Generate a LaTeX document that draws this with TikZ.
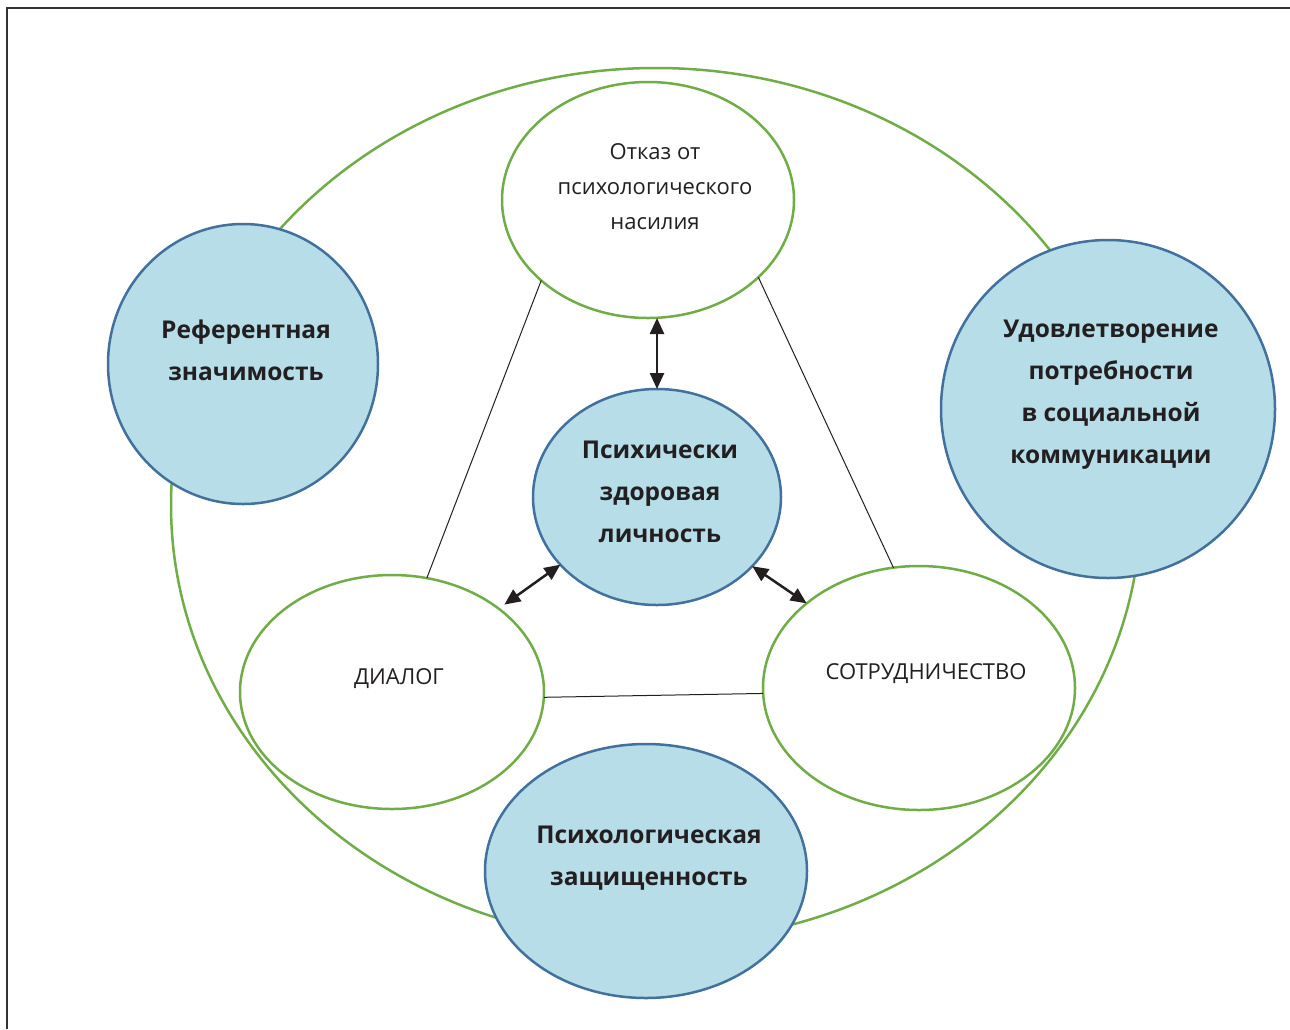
\documentclass[tikz,border=0pt]{standalone}
\usepackage{fontspec}
\setmainfont{Open Sans}
\usetikzlibrary{shapes.geometric,arrows.meta}
\definecolor{grn}{HTML}{70AD47}
\definecolor{bstroke}{HTML}{41719C}
\definecolor{bfill}{HTML}{B7DDE8}
\definecolor{ink}{HTML}{231F20}
\begin{document}
\begin{tikzpicture}[x=0.5pt,y=-0.5pt,
  gell/.style={ellipse, draw=grn, line width=1.25pt, fill=white, inner sep=0pt, outer sep=0pt},
  bell/.style={ellipse, draw=bstroke, line width=1.25pt, fill=bfill, inner sep=0pt, outer sep=0pt},
  btxt/.style={align=center, inner sep=0pt, font=\bfseries\fontsize{12.25}{21}\selectfont, text=ink},
  rtxt/.style={align=center, inner sep=0pt, font=\fontsize{11}{17.5}\selectfont, text=ink},
  thinline/.style={line width=0.5pt, ink},
  arr/.style={line width=1.25pt, ink, {Triangle[length=8pt,width=7pt]}-{Triangle[length=8pt,width=7pt]}}
]
\useasboundingbox (0,0) rectangle (1290,1029);
\draw[line width=1pt, black!80] (7,1029) -- (7,7.5) -- (1290,7.5);

% outer ring
\node[ellipse, draw=grn, line width=1.25pt, inner sep=0pt, minimum width=485pt, minimum height=437pt] (outer) at (656,505) {};

% green ellipses
\node[gell, minimum width=146pt, minimum height=118pt] (otkaz) at (648,200) {};
\node[gell, minimum width=152pt, minimum height=117pt] (dialog) at (392,692) {};
\node[gell, minimum width=156pt, minimum height=122pt] (sotr) at (919,688) {};

% blue circles
\node[bell, minimum width=124pt, minimum height=108pt] (lich) at (657,497) {};
\node[bell, minimum width=135pt, minimum height=140pt] (ref) at (243,364) {};
\node[bell, minimum width=167pt, minimum height=169pt] (udov) at (1108,409) {};
\node[bell, minimum width=161pt, minimum height=127pt] (zash) at (646,871) {};

% thin connectors
\draw[thinline] (otkaz.217.5) -- (dialog.73.5);
\draw[thinline] (otkaz.325) -- (sotr.102);
\draw[thinline] (dialog.358) -- (sotr.182.6);

% arrows
\draw[arr] (lich.north) -- (lich.north |- otkaz.south);
\draw[arr, shorten >=3.5pt] (lich.215) -- (dialog.38);
\draw[arr] (lich.324.6) -- (sotr.143.4);

% texts
\node[rtxt] (otkazt) at ([shift={(7,-13)}]otkaz.center) {Отказ от\\психологического\\насилия};
\node[rtxt] (dialogt) at ([shift={(7,-13)}]dialog.center) {ДИАЛОГ};
\node[rtxt] (sotrt) at ([shift={(7,-14)}]sotr.center) {СОТРУДНИЧЕСТВО};
\node[btxt] (licht) at ([shift={(3,-5)}]lich.center) {Психически\\здоровая\\личность};
\node[btxt] (reft) at ([shift={(3,-14)}]ref.center) {Референтная\\значимость};
\node[btxt] (udovt) at ([shift={(3,-14)}]udov.center) {Удовлетворение\\потребности\\в социальной\\коммуникации};
\node[btxt] (zasht) at ([shift={(3,-13)}]zash.center) {Психологическая\\защищенность};
\end{tikzpicture}
\end{document}
